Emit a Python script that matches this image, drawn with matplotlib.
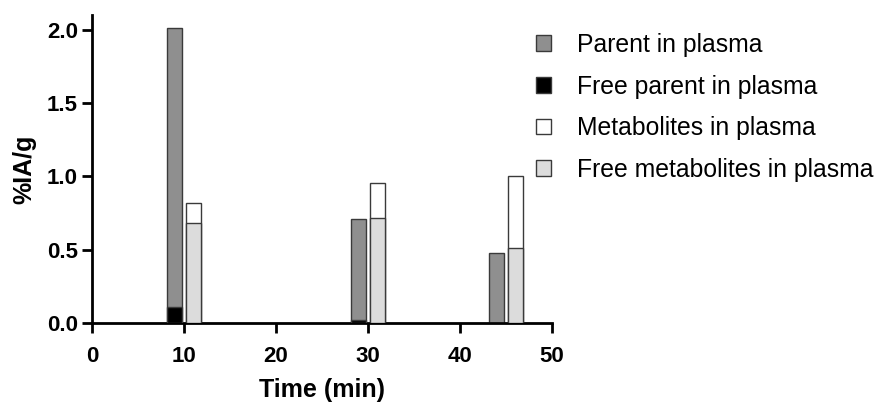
import matplotlib
matplotlib.use("Agg")
import matplotlib.pyplot as plt
from matplotlib.patches import Patch
import numpy as np

plt.rcParams['font.family'] = ['Liberation Sans', 'DejaVu Sans']

times = [10, 30, 45]
parent = [2.01, 0.71, 0.48]
free_parent = [0.11, 0.02, 0.0]
metabolites = [0.82, 0.955, 1.00]
free_metabolites = [0.685, 0.72, 0.515]

labels = ["Parent in plasma", "Free parent in plasma",
          "Metabolites in plasma", "Free metabolites in plasma"]
colors = ["#8f8f8f", "#000000", "#ffffff", "#dcdcdc"]
edge = "#3a3a3a"

fig = plt.figure(figsize=(8.75, 4.03), dpi=100)
ax = fig.add_axes([92/875, (403-323.3)/403, (552-92)/875, (323.3-15)/403])

t = np.array(times, dtype=float)
w = 1.6
ax.bar(t - 1, parent, width=w, color=colors[0], edgecolor=edge, linewidth=1, zorder=2)
ax.bar(t - 1, free_parent, width=w, color=colors[1], edgecolor=edge, linewidth=1, zorder=3)
ax.bar(t + 1, metabolites, width=w, color=colors[2], edgecolor=edge, linewidth=1, zorder=2)
ax.bar(t + 1, free_metabolites, width=w, color=colors[3], edgecolor=edge, linewidth=1, zorder=3)

ax.set_xlim(0, 50)
ax.set_ylim(0, 2.1)
ax.set_xticks([0, 10, 20, 30, 40, 50])
ax.set_yticks([0.0, 0.5, 1.0, 1.5, 2.0])
ax.set_yticklabels(["0.0", "0.5", "1.0", "1.5", "2.0"])
for s in ["top", "right"]:
    ax.spines[s].set_visible(False)
for s in ["left", "bottom"]:
    ax.spines[s].set_linewidth(2)
ax.tick_params(axis="both", width=2, length=7.5, labelsize=16, direction="out")
ax.tick_params(axis="x", pad=9)
ax.tick_params(axis="y", pad=2.5)
for lab in ax.get_xticklabels() + ax.get_yticklabels():
    lab.set_fontweight("bold")
ax.set_xlabel("Time (min)", fontsize=18, fontweight="bold", labelpad=8)
ax.set_ylabel("%IA/g", fontsize=18, fontweight="bold", labelpad=8)

handles = [Patch(facecolor=c, edgecolor=edge, linewidth=1) for c in colors]
fig.legend(handles, labels, loc="upper left", bbox_to_anchor=(536/875, 1 - 33/403),
           frameon=False, fontsize=17.8, handlelength=0.6, handleheight=0.6,
           handletextpad=1.05, labelspacing=0.71, borderaxespad=0, borderpad=0)

fig.savefig("out.png", dpi=100)
